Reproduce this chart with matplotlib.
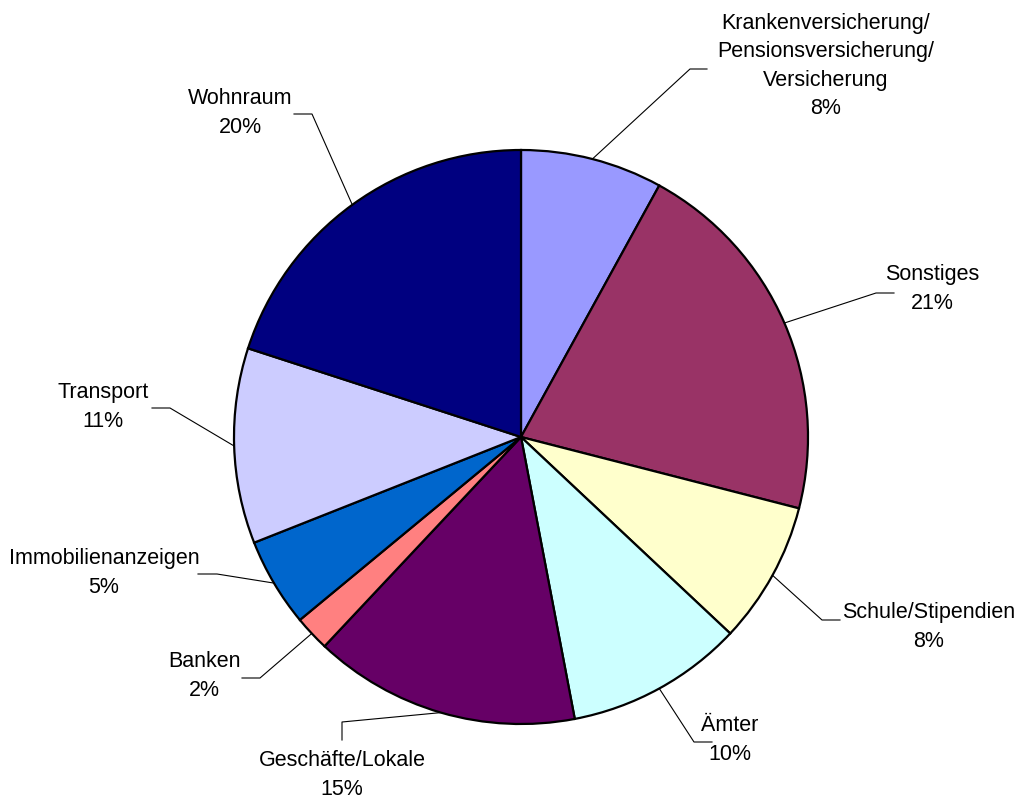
import numpy as np
import matplotlib.pyplot as plt

plt.rcParams['font.family'] = ['Liberation Sans', 'DejaVu Sans']

kategorien = ["Krankenversicherung/\nPensionsversicherung/\nVersicherung", "Sonstiges",
              "Schule/Stipendien", "Ämter", "Geschäfte/Lokale", "Banken",
              "Immobilienanzeigen", "Transport", "Wohnraum"]
anteile = [8, 21, 8, 10, 15, 2, 5, 11, 20]
farben = ["#9999FF", "#993366", "#FFFFCC", "#CCFFFF", "#660066",
          "#FF8080", "#0066CC", "#CCCCFF", "#000080"]

# layout (pixel coords, y from top): label centre, leader elbow, leader end
label_pos = [(826, 66), (932, 289), (929, 627), (730, 740), (342, 775),
             (204, 676), (104, 573), (103, 407), (240, 113)]
knick = [(690, 69), (876, 293), (822, 620), (694, 742), (342, 722),
         (260, 678), (217, 574), (170, 408), (312, 114)]
ende = [(707, 69), (894, 293), (840, 620), (712, 742), (342, 740),
        (242, 678), (198, 574), (152, 408), (294, 114)]

W, H = 1021, 798
cx, cy, r = 521, 437, 287

fig = plt.figure(figsize=(W / 100, H / 100), dpi=100)
ax = fig.add_axes([0, 0, 1, 1])

# y-Achse nach unten -> counterclock=True ist im Bild im Uhrzeigersinn
ax.pie(anteile, colors=farben, startangle=270, counterclock=True,
       center=(cx, cy), radius=r,
       wedgeprops=dict(edgecolor='black', linewidth=1.6))
ax.set_xlim(0, W)
ax.set_ylim(H, 0)
ax.set_aspect('equal')
ax.axis('off')

summe = np.cumsum(anteile)
for i, (name, wert) in enumerate(zip(kategorien, anteile)):
    theta = np.radians(360 * (summe[i] - wert / 2) / sum(anteile))
    x0 = cx + r * np.sin(theta)
    y0 = cy - r * np.cos(theta)
    ax.plot([x0, knick[i][0], ende[i][0]], [y0, knick[i][1], ende[i][1]],
            color='black', linewidth=0.8)
    ax.text(label_pos[i][0], label_pos[i][1], f"{name}\n{wert}%",
            ha='center', va='center', fontsize=15.5, linespacing=1.45)

fig.savefig("out.png", dpi=100)
